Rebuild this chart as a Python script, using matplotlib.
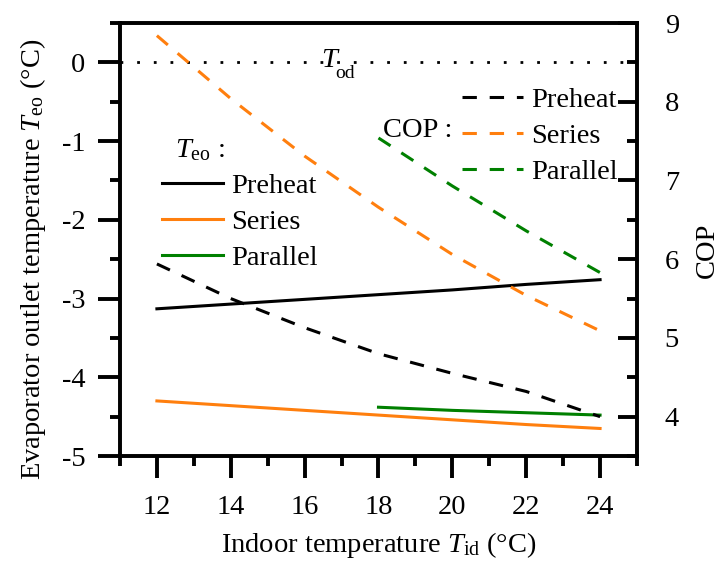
import matplotlib
matplotlib.use('Agg')
import matplotlib.pyplot as plt
from matplotlib.ticker import MultipleLocator

plt.rcParams['font.family'] = 'Liberation Serif'
plt.rcParams['mathtext.fontset'] = 'custom'
plt.rcParams['mathtext.rm'] = 'Liberation Serif'
plt.rcParams['mathtext.it'] = 'Liberation Serif:italic'
plt.rcParams['font.size'] = 20.5

ORANGE = "#FF7F0E"
GREEN = "#008000"

# indoor temperature (x)
t_in = [12, 14, 16, 18, 20, 22, 24]
t_in_par = [18, 20, 22, 24]

# evaporator outlet temperature (left axis)
teo_preheat = [-3.13, -3.07, -3.01, -2.95, -2.89, -2.82, -2.76]
teo_series = [-4.30, -4.36, -4.42, -4.48, -4.54, -4.60, -4.65]
teo_parallel = [-4.38, -4.42, -4.45, -4.48]

# COP (right axis)
cop_preheat = [5.94, 5.50, 5.13, 4.80, 4.55, 4.32, 4.00]
cop_series = [8.84, 8.04, 7.31, 6.66, 6.06, 5.54, 5.09]
cop_parallel = [7.54, 6.93, 6.36, 5.83]

T_OD = 0.0

fig = plt.figure(figsize=(7.21, 5.63), dpi=100)
ax = fig.add_axes([0.1664, 0.190, 0.7171, 0.7691])
ax2 = ax.twinx()

lw_solid = 2.2
lw_dash = 2.2
dash = (0, (4.7, 4.2))

ax.axhline(T_OD, color='black', lw=2.0, ls=(0, (1, 5)))
l1, = ax.plot(t_in, teo_preheat, color='black', lw=lw_solid, label='Preheat')
l2, = ax.plot(t_in, teo_series, color=ORANGE, lw=lw_solid, label='Series')
l3, = ax.plot(t_in_par, teo_parallel, color=GREEN, lw=lw_solid, label='Parallel')

d1, = ax2.plot(t_in, cop_preheat, color='black', lw=lw_dash, ls=dash, label='Preheat')
d2, = ax2.plot(t_in, cop_series, color=ORANGE, lw=lw_dash, ls=dash, label='Series')
d3, = ax2.plot(t_in_par, cop_parallel, color=GREEN, lw=lw_dash, ls=dash, label='Parallel')

ax.set_xlim(11, 25)
ax.set_ylim(-5, 0.5)
ax2.set_ylim(3.5, 9)

ax.xaxis.set_major_locator(MultipleLocator(2))
ax.xaxis.set_minor_locator(MultipleLocator(1))
ax.yaxis.set_minor_locator(MultipleLocator(0.5))
ax2.yaxis.set_major_locator(MultipleLocator(1))
ax2.yaxis.set_minor_locator(MultipleLocator(0.5))
ax.set_yticks([0, -1, -2, -3, -4, -5])
ax.set_yticklabels(['0', '-1', '-2', '-3', '-4', '-5'])

for a in (ax, ax2):
    for s in a.spines.values():
        s.set_linewidth(2.6)

ax.tick_params(axis='both', which='major', direction='out', length=16, width=2.8)
ax.tick_params(axis='x', which='major', pad=12)
ax.tick_params(axis='y', which='major', pad=9)
ax.tick_params(axis='both', which='minor', direction='out', length=7, width=2.8)
ax2.tick_params(axis='y', which='major', direction='in', length=14, width=2.8, pad=20)
ax2.tick_params(axis='y', which='minor', direction='in', length=7, width=2.8)

ax.set_xlabel(r'Indoor temperature $T_{\mathrm{id}}$ (°C)', va='center')
ax.xaxis.set_label_coords(0.5, -0.205)
ax.set_ylabel(r'Evaporator outlet temperature $T_{\mathrm{eo}}$ (°C)', va='center')
ax.yaxis.set_label_coords(-0.168, 0.455)
ax2.set_ylabel('COP', va='center')
ax2.yaxis.set_label_coords(1.137, 0.476)

# T_od label: italic T with a lowered upright subscript
ax.text(16.45, -0.06, 'T', style='italic', va='baseline', ha='left')
ax.annotate('od', xy=(16.45, -0.06), xytext=(10, -8), textcoords='offset points',
            fontsize=14, va='baseline', ha='left')

leg1 = ax.legend(handles=[l1, l2, l3], loc='center left', bbox_to_anchor=(0.081, 0.540),
                 frameon=False, borderpad=0, borderaxespad=0, handlelength=2.15,
                 handletextpad=0.3, labelspacing=0.35)
ax.text(0.106, 0.690, r'$T_{\mathrm{eo}}$ :', transform=ax.transAxes, va='baseline', ha='left')

leg2 = ax2.legend(handles=[d1, d2, d3], loc='center left', bbox_to_anchor=(0.661, 0.739),
                  frameon=False, borderpad=0, borderaxespad=0, handlelength=2.15,
                  handletextpad=0.3, labelspacing=0.35)
ax2.text(0.509, 0.737, 'COP :', transform=ax2.transAxes, va='baseline', ha='left')

fig.savefig('out.png', dpi=100)
